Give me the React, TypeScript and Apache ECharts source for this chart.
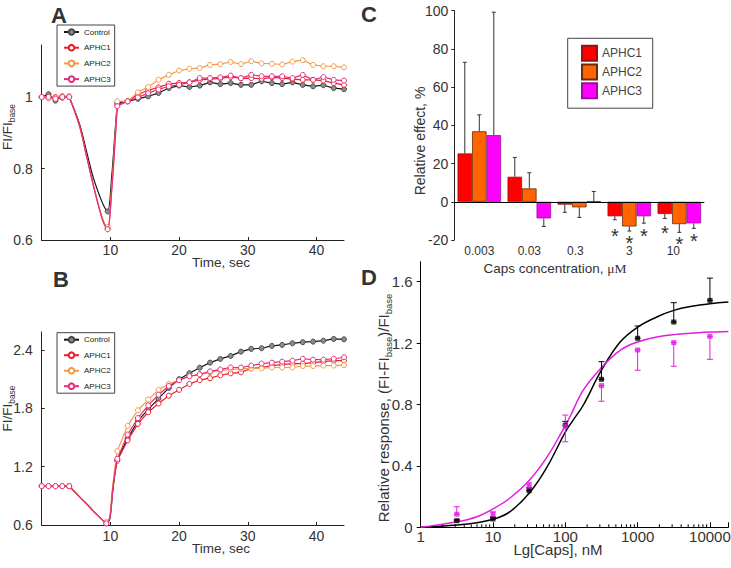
import React, { useEffect, useRef } from 'react';
import * as echarts from 'echarts';

const FONT = '"Liberation Sans", Arial, sans-serif';
const SERIF = '"Liberation Serif", "Times New Roman", serif';

// ---------- Panels A & B: time courses ----------
const seriesNames = ['Control', 'APHC1', 'APHC2', 'APHC3'];
const timeBase = [0, 1, 2, 3, 4];
const timeRise = [11, 12.5, 14, 15.5, 17, 18.5, 20, 21.5, 23, 24.5, 26, 27.5, 29, 30.5, 32, 33.5, 35, 36.5, 38, 39.5, 41, 42.5, 44];
const dipTimesA = [5.5, 6.5, 7.5, 8.5, 9.1, 9.6, 10.2, 10.7];
const dipMinA = 9.6;
const dipTimesB = [5.5, 6.5, 7.5, 8.5, 9.0, 9.4, 9.9, 10.3, 10.7];
const dipMinB = 9.4;
const ticksTime = [10, 20, 30, 40];
const ticksA = [0.6, 0.8, 1];
const ticksB = [0.6, 1.2, 1.8, 2.4];

const aCtrlBase = [1.0, 1.008, 0.99, 1.002, 1.0];
const aCtrlDip = [0.925, 0.85, 0.775, 0.72, 0.693, 0.68, 0.78, 0.91];
const aCtrlRise = [0.983, 0.988, 0.995, 1.002, 1.011, 1.025, 1.032, 1.028, 1.032, 1.041, 1.036, 1.039, 1.034, 1.034, 1.044, 1.039, 1.036, 1.041, 1.034, 1.03, 1.033, 1.025, 1.022];
const aP1Base = [1.0, 0.997, 1.0, 0.998, 1.0];
const aP1Dip = [0.92, 0.838, 0.755, 0.68, 0.645, 0.632, 0.75, 0.89];
const aP1Rise = [0.979, 0.988, 1.007, 1.019, 1.027, 1.037, 1.039, 1.041, 1.048, 1.05, 1.052, 1.056, 1.052, 1.053, 1.051, 1.055, 1.053, 1.05, 1.048, 1.048, 1.046, 1.039, 1.034];
const aP2Base = [1.0, 0.996, 0.998, 1.002, 1.003];
const aP2Dip = [0.918, 0.836, 0.754, 0.682, 0.648, 0.636, 0.75, 0.89];
const aP2Rise = [0.988, 0.988, 1.013, 1.028, 1.048, 1.062, 1.074, 1.079, 1.081, 1.09, 1.092, 1.098, 1.092, 1.1, 1.094, 1.093, 1.091, 1.099, 1.103, 1.09, 1.086, 1.086, 1.083];
const aP3Base = [1.0, 1.0, 0.995, 1.0, 1.0];
const aP3Dip = [0.92, 0.837, 0.754, 0.679, 0.644, 0.63, 0.74, 0.88];
const aP3Rise = [0.974, 0.988, 0.999, 1.011, 1.021, 1.03, 1.034, 1.041, 1.053, 1.053, 1.055, 1.06, 1.053, 1.062, 1.058, 1.058, 1.058, 1.053, 1.062, 1.048, 1.056, 1.048, 1.046];

const bCtrlBase = [1, 1, 1, 1, 1];
const bCtrlDip = [0.89, 0.82, 0.745, 0.675, 0.64, 0.62, 0.66, 0.92, 1.15];
const bCtrlRise = [1.27, 1.49, 1.67, 1.79, 1.9, 2.01, 2.1, 2.161, 2.218, 2.27, 2.308, 2.339, 2.383, 2.411, 2.418, 2.442, 2.452, 2.469, 2.48, 2.486, 2.496, 2.514, 2.51];
const bP1Base = [1, 1, 1, 1, 1];
const bP1Dip = [0.89, 0.82, 0.745, 0.675, 0.64, 0.617, 0.67, 0.95, 1.15];
const bP1Rise = [1.26, 1.47, 1.64, 1.76, 1.85, 1.93, 1.99, 2.05, 2.09, 2.11, 2.14, 2.16, 2.17, 2.21, 2.22, 2.24, 2.25, 2.26, 2.26, 2.27, 2.28, 2.29, 2.29];
const bP2Base = [1, 1, 1, 1, 1];
const bP2Dip = [0.89, 0.82, 0.745, 0.675, 0.645, 0.63, 0.68, 0.98, 1.22];
const bP2Rise = [1.36, 1.62, 1.78, 1.89, 1.99, 2.05, 2.09, 2.13, 2.15, 2.17, 2.19, 2.2, 2.205, 2.21, 2.21, 2.22, 2.22, 2.22, 2.235, 2.235, 2.24, 2.24, 2.245];
const bP3Base = [1, 1, 1, 1, 1];
const bP3Dip = [0.89, 0.82, 0.745, 0.675, 0.64, 0.617, 0.67, 0.95, 1.16];
const bP3Rise = [1.28, 1.53, 1.7, 1.83, 1.94, 2.03, 2.09, 2.13, 2.15, 2.18, 2.2, 2.22, 2.22, 2.24, 2.26, 2.27, 2.28, 2.29, 2.31, 2.3, 2.3, 2.31, 2.325];

// ---------- Panel C: bar chart ----------
const capsCats = ['0.003', '0.03', '0.3', '3', '10'];
const c1 = [25.3, 13.1, -1.5, -7.6, -6.4];
const c1Sd = [47.7, 10.1, 4.0, 1.8, 2.3];
const c2 = [36.9, 7.0, -2.9, -12.9, -11.7];
const c2Sd = [8.6, 8.2, 5.3, 2.4, 4.3];
const c3 = [34.9, -8.7, 0.3, -7.6, -11.3];
const c3Sd = [64.3, 4.2, 5.1, 3.6, 2.6];
const starCats = [3, 3, 3, 4, 4, 4];
const starBar = [0, 1, 2, 0, 1, 2];
const starLevels = [-15.2, -19.2, -15.2, -13.9, -19.5, -18.1];

// ---------- Panel D: dose-response ----------
const dosesD = [3.16, 10, 31.6, 100, 316, 1000, 3160, 10000];
const blackD = [0.043, 0.054, 0.238, 0.665, 0.964, 1.231, 1.337, 1.478];
const blackErrHi = [0.05, 0.064, 0.258, 0.69, 1.079, 1.311, 1.463, 1.623];
const magD = [0.085, 0.086, 0.27, 0.659, 0.923, 1.155, 1.203, 1.244];
const magErrLo = [0.085, 0.07, 0.25, 0.557, 0.821, 1.023, 1.049, 1.094];
const magErrHi = [0.134, 0.1, 0.29, 0.731, 0.923, 1.155, 1.203, 1.244];
const blackCurveX = [1, 3.2, 6, 10, 17, 32, 56, 100, 129, 177, 316, 573, 1000, 1840, 3160, 5880, 10000, 18000];
const blackCurveY = [0, 0.015, 0.03, 0.052, 0.1, 0.225, 0.394, 0.62, 0.7, 0.795, 1.023, 1.207, 1.304, 1.37, 1.413, 1.441, 1.456, 1.467];
const magCurveX = [1, 3.2, 6, 10, 17, 32, 56, 89, 116, 177, 316, 573, 1000, 1840, 3160, 5880, 10000, 18000];
const magCurveY = [0, 0.036, 0.069, 0.12, 0.189, 0.308, 0.459, 0.62, 0.72, 0.893, 1.04, 1.153, 1.207, 1.239, 1.255, 1.265, 1.272, 1.276];
const ticksD = [0, 0.4, 0.8, 1.2, 1.6];
const minorTicksD = [2, 3, 4, 5, 6, 7, 8, 9, 20, 30, 40, 50, 60, 70, 80, 90, 200, 300, 400, 500, 600, 700, 800, 900, 2000, 3000, 4000, 5000, 6000, 7000, 8000, 9000];

// ---------- styles ----------
const lineColors = ['#141414', '#ee1c2e', '#f39a45', '#e52d7d'];
const markerFill = ['#8c8c8c', '#ffffff', '#ffffff', '#ffffff'];
const markerBorder = ['#4a4a4a', '#ee1c2e', '#f39a45', '#e52d7d'];
const barFill = ['#ff0000', '#ff6400', '#ff00ff'];
const barBorder = ['#9a1010', '#6b2a00', '#9a109a'];
const magenta = '#e31ce3';
const catLabelShift = [0, 0, 8, 0, 12];

function textWidth(text: string, size: number, family: string): number {
  const ctx = document.createElement('canvas').getContext('2d') as CanvasRenderingContext2D;
  ctx.font = `${size}px ${family}`;
  return ctx.measureText(text).width;
}

type Part = { t: string; size: number; family?: string; dy?: number };
function multiLabel(parts: Part[], cx: number, cy: number, rotated: boolean): any {
  const widths = parts.map((p) => textWidth(p.t, p.size, p.family || FONT));
  const total = widths.reduce((a, b) => a + b, 0);
  let x = -total / 2;
  const children = parts.map((p, i) => {
    const el = {
      type: 'text',
      x,
      y: p.dy || 0,
      style: {
        text: p.t,
        fontSize: p.size,
        fontFamily: p.family || FONT,
        fill: '#333',
        align: 'left',
        verticalAlign: 'middle',
      },
    };
    x += widths[i];
    return el;
  });
  return { type: 'group', x: cx, y: cy, rotation: rotated ? Math.PI / 2 : 0, children, silent: true };
}

function timeSeries(
  idx: number,
  base: number[],
  dip: number[],
  rise: number[],
  dipTimes: number[],
  dipMin: number,
  axis: number,
): any[] {
  const style = {
    lineStyle: { color: lineColors[idx], width: 1.2 },
    itemStyle: { color: markerFill[idx], borderColor: markerBorder[idx], borderWidth: 1 },
  };
  const main = {
    type: 'line',
    name: seriesNames[idx],
    xAxisIndex: axis,
    yAxisIndex: axis,
    symbol: 'circle',
    symbolSize: 5,
    showSymbol: true,
    silent: true,
    z: 3 + idx,
    data: [
      ...timeBase.map((t, i) => [t, base[i]]),
      ['-', '-'],
      ...timeRise.map((t, i) => [t, rise[i]]),
    ],
    ...style,
  };
  const dipSeries = {
    type: 'line',
    name: seriesNames[idx] + '-dip' + axis,
    xAxisIndex: axis,
    yAxisIndex: axis,
    symbol: 'circle',
    symbolSize: 5,
    showSymbol: true,
    smooth: 0.35,
    silent: true,
    z: 3 + idx,
    data: [
      { value: [timeBase[timeBase.length - 1], base[base.length - 1]], symbol: 'none' },
      ...dipTimes.map((t, i) => (t === dipMin ? [t, dip[i]] : { value: [t, dip[i]], symbol: 'none' })),
      { value: [timeRise[0], rise[0]], symbol: 'none' },
    ],
    ...style,
  };
  return [main, dipSeries];
}

function timeXAxis(grid: number, margin: number): any {
  return {
    type: 'value',
    gridIndex: grid,
    min: 0,
    max: 44,
    axisLine: { show: true, lineStyle: { color: '#222', width: 1 } },
    axisTick: { show: true, inside: true, length: 3, customValues: ticksTime, lineStyle: { color: '#222' } },
    axisLabel: { show: true, customValues: ticksTime, margin, fontSize: 14, color: '#333', fontFamily: FONT },
    splitLine: { show: false },
  };
}

function valueYAxis(grid: number, min: number, max: number, ticks: number[], extra: any = {}): any {
  return {
    type: 'value',
    gridIndex: grid,
    min,
    max,
    axisLine: { show: true, lineStyle: { color: '#222', width: 1 } },
    axisTick: { show: true, inside: true, length: 3, customValues: ticks, lineStyle: { color: '#222' } },
    axisLabel: { show: true, customValues: ticks, margin: 9, fontSize: 14, color: '#333', fontFamily: FONT },
    splitLine: { show: false },
    ...extra,
  };
}

function timeLegend(top: number, gap: number): any {
  return {
    data: seriesNames,
    left: 57,
    top,
    orient: 'vertical',
    itemWidth: 15,
    itemHeight: 7,
    itemGap: gap,
    padding: [2, 4, 2, 6],
    borderColor: '#444',
    borderWidth: 1,
    selectedMode: false,
    textStyle: { fontSize: 8, color: '#222', fontFamily: FONT, lineHeight: 10 },
  };
}

function buildOption(): any {
  const series: any[] = [];
  // Panel A
  series.push(...timeSeries(0, aCtrlBase, aCtrlDip, aCtrlRise, dipTimesA, dipMinA, 0));
  series.push(...timeSeries(1, aP1Base, aP1Dip, aP1Rise, dipTimesA, dipMinA, 0));
  series.push(...timeSeries(2, aP2Base, aP2Dip, aP2Rise, dipTimesA, dipMinA, 0));
  series.push(...timeSeries(3, aP3Base, aP3Dip, aP3Rise, dipTimesA, dipMinA, 0));
  // Panel B
  series.push(...timeSeries(0, bCtrlBase, bCtrlDip, bCtrlRise, dipTimesB, dipMinB, 1));
  series.push(...timeSeries(1, bP1Base, bP1Dip, bP1Rise, dipTimesB, dipMinB, 1));
  series.push(...timeSeries(2, bP2Base, bP2Dip, bP2Rise, dipTimesB, dipMinB, 1));
  series.push(...timeSeries(3, bP3Base, bP3Dip, bP3Rise, dipTimesB, dipMinB, 1));

  // Panel C bars
  const cVals = [c1, c2, c3];
  const cSds = [c1Sd, c2Sd, c3Sd];
  const barW = 14.5;
  cVals.forEach((vals, k) => {
    const s: any = {
      type: 'bar',
      name: seriesNames[k + 1] + ' ',
      xAxisIndex: 2,
      yAxisIndex: 2,
      data: vals,
      barWidth: barW,
      barGap: '0%',
      silent: true,
      z: 2,
      itemStyle: { color: barFill[k], borderColor: barBorder[k], borderWidth: 0.8 },
    };
    if (k === 0) {
      s.markLine = {
        silent: true,
        symbol: ['none', 'none'],
        label: { show: false },
        lineStyle: { color: '#000', width: 1, type: 'solid' },
        data: [{ yAxis: 0 }],
        z: 4,
      };
    }
    series.push(s);
  });
  cVals.forEach((vals, k) => {
    const offset = (k - 1) * barW;
    series.push({
      type: 'custom',
      xAxisIndex: 2,
      yAxisIndex: 2,
      silent: true,
      z: 3,
      data: vals.map((v, i) => [i, v, v + (v >= 0 ? 1 : -1) * cSds[k][i]]),
      renderItem: (params: any, api: any) => {
        const i = api.value(0);
        const p0 = api.coord([i, api.value(1)]);
        const p1 = api.coord([i, api.value(2)]);
        const x = p0[0] + offset;
        return {
          type: 'group',
          children: [
            { type: 'line', shape: { x1: x, y1: p0[1], x2: x, y2: p1[1] }, style: { stroke: '#333', lineWidth: 1 } },
            { type: 'line', shape: { x1: x - 2, y1: p1[1], x2: x + 2, y2: p1[1] }, style: { stroke: '#333', lineWidth: 1 } },
          ],
        };
      },
    });
  });
  series.push({
    type: 'custom',
    xAxisIndex: 2,
    yAxisIndex: 2,
    silent: true,
    z: 5,
    encode: { x: 0, y: 2 },
    data: starCats.map((c, i) => [c, starBar[i], starLevels[i]]),
    renderItem: (params: any, api: any) => {
      const p = api.coord([api.value(0), api.value(2)]);
      const x = p[0] + (api.value(1) - 1) * barW;
      return {
        type: 'text',
        x,
        y: p[1] + 5,
        style: { text: '*', fontSize: 20, fontFamily: FONT, fill: '#333', align: 'center', verticalAlign: 'middle' },
      };
    },
  });

  // Panel D
  series.push({
    type: 'custom',
    xAxisIndex: 3,
    yAxisIndex: 3,
    silent: true,
    z: 2,
    data: minorTicksD.map((v) => [v, 0]),
    renderItem: (params: any, api: any) => {
      const p = api.coord([api.value(0), 0]);
      return { type: 'line', shape: { x1: p[0], y1: p[1], x2: p[0], y2: p[1] - 3 }, style: { stroke: '#000', lineWidth: 1 } };
    },
  });
  const errBar = (color: string) => (params: any, api: any) => {
    const lo = api.coord([api.value(0), api.value(1)]);
    const hi = api.coord([api.value(0), api.value(2)]);
    if (Math.abs(lo[1] - hi[1]) < 0.5) return { type: 'group', children: [] };
    const x = lo[0];
    return {
      type: 'group',
      children: [
        { type: 'line', shape: { x1: x, y1: lo[1], x2: x, y2: hi[1] }, style: { stroke: color, lineWidth: 1 } },
        { type: 'line', shape: { x1: x - 3, y1: hi[1], x2: x + 3, y2: hi[1] }, style: { stroke: color, lineWidth: 1 } },
        { type: 'line', shape: { x1: x - 3, y1: lo[1], x2: x + 3, y2: lo[1] }, style: { stroke: color, lineWidth: 1 } },
      ],
    };
  };
  series.push({
    type: 'line',
    xAxisIndex: 3,
    yAxisIndex: 3,
    silent: true,
    smooth: 0.4,
    symbol: 'none',
    z: 3,
    lineStyle: { color: '#000', width: 1.5 },
    data: blackCurveX.map((x, i) => [x, blackCurveY[i]]),
  });
  series.push({
    type: 'line',
    xAxisIndex: 3,
    yAxisIndex: 3,
    silent: true,
    smooth: 0.4,
    symbol: 'none',
    z: 3,
    lineStyle: { color: magenta, width: 1.5 },
    data: magCurveX.map((x, i) => [x, magCurveY[i]]),
  });
  series.push({
    type: 'custom',
    xAxisIndex: 3,
    yAxisIndex: 3,
    silent: true,
    z: 4,
    data: dosesD.map((d, i) => [d, blackD[i], blackErrHi[i]]),
    renderItem: errBar('#000'),
  });
  series.push({
    type: 'custom',
    xAxisIndex: 3,
    yAxisIndex: 3,
    silent: true,
    z: 4,
    data: dosesD.map((d, i) => [d, magErrLo[i], magErrHi[i]]),
    renderItem: errBar(magenta),
  });
  series.push({
    type: 'scatter',
    xAxisIndex: 3,
    yAxisIndex: 3,
    silent: true,
    symbol: 'rect',
    symbolSize: 5,
    z: 5,
    itemStyle: { color: '#000' },
    data: dosesD.map((d, i) => [d, blackD[i]]),
  });
  series.push({
    type: 'scatter',
    xAxisIndex: 3,
    yAxisIndex: 3,
    silent: true,
    symbol: 'rect',
    symbolSize: 5,
    z: 5,
    itemStyle: { color: magenta },
    data: dosesD.map((d, i) => [d, magD[i]]),
  });

  const letter = (t: string, x: number, y: number) => ({
    type: 'text',
    x,
    y,
    silent: true,
    style: { text: t, fontSize: 22, fontWeight: 'bold', fontFamily: FONT, fill: '#333', align: 'left', verticalAlign: 'middle' },
  });

  const graphic: any[] = [
    letter('A', 51, 15),
    letter('B', 53, 279),
    letter('C', 361, 14.5),
    letter('D', 361, 277),
    multiLabel([{ t: 'Time, sec', size: 13.5 }], 221, 262, false),
    multiLabel([{ t: 'Time, sec', size: 13.5 }], 221, 548, false),
    multiLabel([{ t: 'Caps concentration, ', size: 13.5 }, { t: 'μM', size: 13.5, family: SERIF }], 555, 268.5, false),
    multiLabel([{ t: 'Lg[Caps], nM', size: 15 }], 558, 549.5, false),
    multiLabel([{ t: 'FI/FI', size: 13.5 }, { t: 'base', size: 8.5, dy: 4 }], 7.5, 127, true),
    multiLabel([{ t: 'FI/FI', size: 13.5 }, { t: 'base', size: 8.5, dy: 4 }], 7.5, 408.5, true),
    multiLabel([{ t: 'Relative effect, %', size: 14 }], 420, 141, true),
    multiLabel(
      [
        { t: 'Relative response, (FI-FI', size: 15 },
        { t: 'base', size: 9.5, dy: 4.5 },
        { t: ')/FI', size: 15 },
        { t: 'base', size: 9.5, dy: 4.5 },
      ],
      383.5,
      408,
      true,
    ),
  ];

  return {
    animation: false,
    backgroundColor: '#ffffff',
    textStyle: { fontFamily: FONT },
    grid: [
      { left: 41.7, top: 45, width: 302.3, height: 195, containLabel: false, outerBoundsMode: 'none' },
      { left: 41.7, top: 332, width: 302.3, height: 193, containLabel: false, outerBoundsMode: 'none' },
      { left: 454.3, top: 10.7, width: 250, height: 229.3, containLabel: false, outerBoundsMode: 'none' },
      { left: 420.7, top: 261.7, width: 307.7, height: 265.6, containLabel: false, outerBoundsMode: 'none' },
    ],
    xAxis: [
      timeXAxis(0, 3),
      timeXAxis(1, 4),
      {
        type: 'category',
        gridIndex: 2,
        data: capsCats.map((c, i) => ({ value: c, textStyle: { padding: [0, catLabelShift[i], 0, 0] } })),
        axisLine: { show: false, onZero: false },
        axisTick: { show: false },
        axisLabel: { show: true, margin: 5, fontSize: 12, color: '#333', fontFamily: FONT, interval: 0 },
        splitLine: { show: false },
      },
      {
        type: 'log',
        gridIndex: 3,
        logBase: 10,
        min: 1,
        max: 18000,
        axisLine: { show: true, lineStyle: { color: '#000', width: 1 } },
        axisTick: { show: true, inside: true, length: 5, lineStyle: { color: '#000' } },
        axisLabel: {
          show: true,
          margin: 1.5,
          fontSize: 15,
          color: '#333',
          fontFamily: FONT,
          formatter: (v: number) => {
            const l = Math.log10(v);
            return Math.abs(l - Math.round(l)) < 1e-6 ? String(Math.round(v)) : '';
          },
        },
        splitLine: { show: false },
        minorTick: { show: false },
      },
    ],
    yAxis: [
      valueYAxis(0, 0.6, 1.1455, ticksA),
      valueYAxis(1, 0.6, 2.585, ticksB),
      {
        type: 'value',
        gridIndex: 2,
        min: -20,
        max: 100,
        interval: 20,
        axisLine: { show: true, lineStyle: { color: '#222', width: 1 } },
        axisTick: { show: true, inside: false, length: 3, lineStyle: { color: '#222' } },
        axisLabel: { show: true, margin: 6, fontSize: 14, color: '#333', fontFamily: FONT },
        splitLine: { show: false },
      },
      valueYAxis(3, 0, 1.73, ticksD, {
        axisLine: { show: true, lineStyle: { color: '#000', width: 1 } },
        axisTick: { show: true, inside: false, length: 4, customValues: ticksD, lineStyle: { color: '#000' } },
        axisLabel: { show: true, customValues: ticksD, margin: 8, fontSize: 15, color: '#333', fontFamily: FONT },
      }),
    ],
    legend: [
      timeLegend(25, 5.7),
      timeLegend(332.7, 5.5),
      {
        data: ['APHC1 ', 'APHC2 ', 'APHC3 '],
        formatter: (n: string) => n.trim(),
        left: 567.7,
        top: 38.3,
        orient: 'vertical',
        icon: 'rect',
        itemWidth: 15,
        itemHeight: 15,
        itemGap: 1.7,
        padding: [6.5, 10.7, 9, 13.3],
        borderColor: '#444',
        borderWidth: 1,
        selectedMode: false,
        textStyle: { fontSize: 12, color: '#444', fontFamily: FONT },
      },
    ],
    graphic,
    series,
  };
}

export default function App() {
  const ref = useRef<HTMLDivElement>(null);
  useEffect(() => {
    if (!ref.current) return;
    const chart = echarts.init(ref.current, null, { renderer: 'svg' });
    chart.setOption(buildOption());
    return () => chart.dispose();
  }, []);
  return <div ref={ref} style={{ position: 'fixed', left: 0, top: 0, width: 731, height: 568, background: '#fff' }} />;
}
